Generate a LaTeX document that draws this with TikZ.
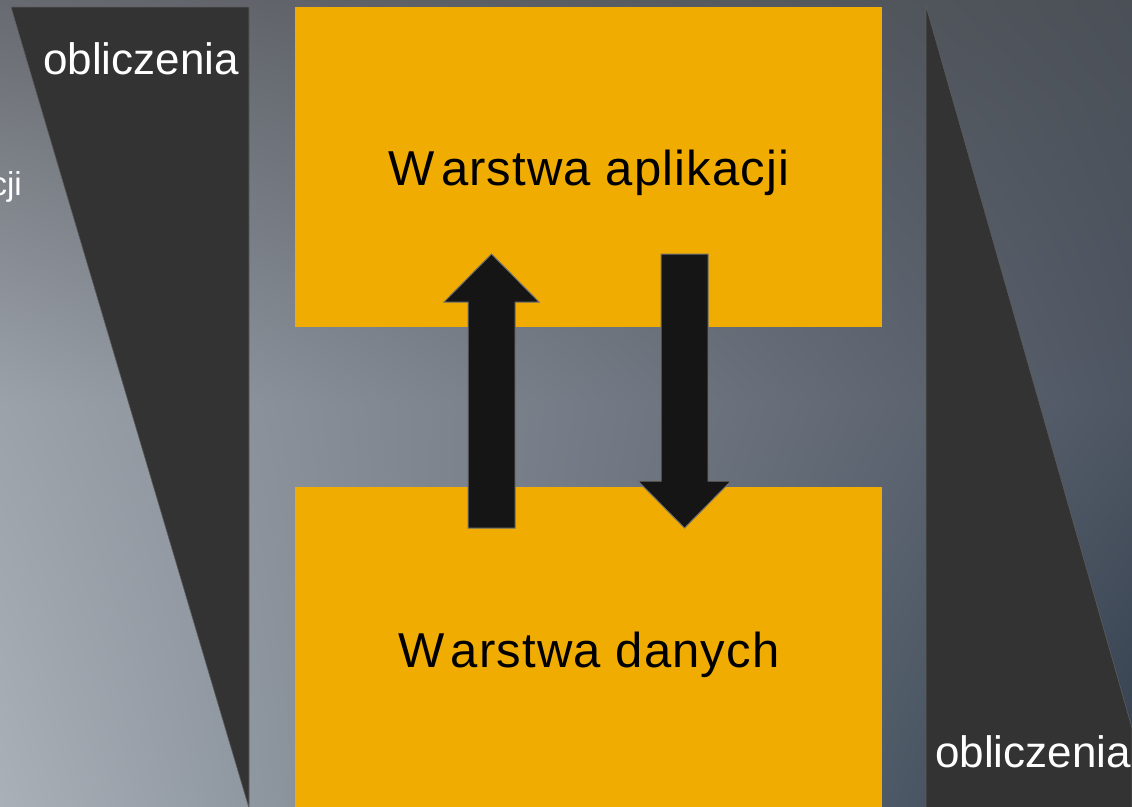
\documentclass[tikz,border=0pt]{standalone}
\usepackage{fontspec}
\setmainfont{Liberation Sans}
\newfontfamily\layerfont[LetterSpace=2.3]{Liberation Sans}
\usetikzlibrary{shadings}
\definecolor{bgTL}{HTML}{676A70}
\definecolor{bgTR}{HTML}{4B5057}
\definecolor{bgML}{HTML}{9CA2AA}
\definecolor{bgMR}{HTML}{4E5663}
\definecolor{bgBL}{HTML}{A9B0B8}
\definecolor{bgBR}{HTML}{33404F}
\definecolor{darkgray3}{HTML}{333333}
\definecolor{layerorange}{HTML}{F0AC00}
\definecolor{arrowfill}{HTML}{151515}
\definecolor{arrowedge}{HTML}{707070}
\tikzset{
  darkshape/.style={fill=darkgray3, draw=darkgray3!80!white, line width=0.6pt},
  layerbox/.style={fill=layerorange, draw=none, minimum width=587pt, inner sep=0pt, anchor=north west},
  layertext/.style={font=\layerfont\fontsize{49}{56}\selectfont, text=black, inner sep=0pt, anchor=base},
  sidetext/.style={font=\fontsize{44}{50}\selectfont, text=white, inner sep=0pt},
  blockarrow/.style={fill=arrowfill, draw=arrowedge, line width=1pt, line join=miter}
}
\begin{document}
\begin{tikzpicture}[x=1pt,y=-1pt]
\useasboundingbox (0,0) rectangle (1132,806);
\clip (0,0) rectangle (1132,806);
% background
\shade[upper left=bgTL, upper right=bgTR, lower left=bgML, lower right=bgMR] (0,0) rectangle (1132,404);
\shade[upper left=bgML, upper right=bgMR, lower left=bgBL, lower right=bgBR] (0,403) rectangle (1132,806);
% dark side shapes
\filldraw[darkshape] (11,7) -- (249,7) -- (249,808) -- cycle;
\filldraw[darkshape] (926,6) -- (1132,728) -- (1132,808) -- (926,808) -- cycle;
% layers
\node[layerbox, minimum height=320pt] (app) at (295,7) {};
\node[layerbox, minimum height=320pt] (data) at (295,487) {};
\node[layertext] (apptext) at (589,185) {W\kern6pt arstwa aplikacji};
\node[layertext] (datatext) at (589,667) {W\kern6pt arstwa danych};
% block arrows
\filldraw[blockarrow] (491.5,254) -- (539,302) -- (515,302) -- (515,528) -- (468,528) -- (468,302) -- (444,302) -- cycle;
\filldraw[blockarrow] (661,254) -- (708,254) -- (708,481) -- (731,481) -- (684.5,528) -- (638,481) -- (661,481) -- cycle;
% side texts
\node[sidetext, anchor=base west] (obltop) at (43,74) {obliczenia};
\node[sidetext, anchor=base west] (oblbot) at (935,767) {obliczenia};
\node[sidetext, font=\fontsize{33}{38}\selectfont, anchor=base east] (cji) at (22,195) {cji};
\end{tikzpicture}
\end{document}
